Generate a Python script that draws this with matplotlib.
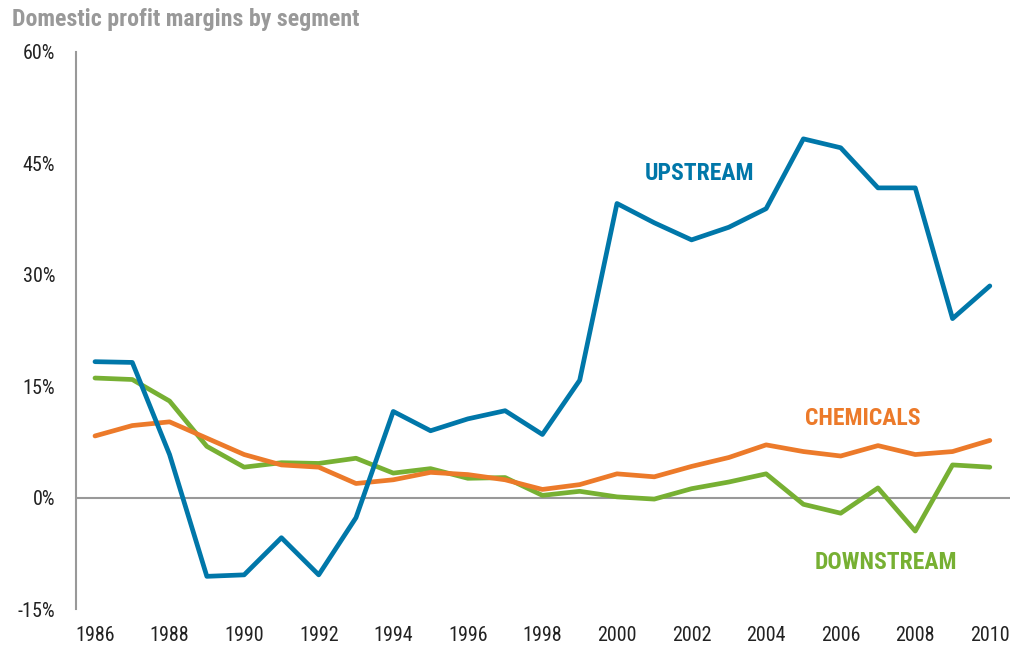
import matplotlib
matplotlib.use("Agg")
import matplotlib.pyplot as plt
from matplotlib.ticker import FuncFormatter

years = list(range(1986, 2011))
upstream = [18.3, 18.2, 5.8, -10.6, -10.4, -5.4, -10.4, -2.7, 11.6, 9.0, 10.6, 11.7, 8.5, 15.8,
            39.6, 37.0, 34.7, 36.4, 38.9, 48.3, 47.1, 41.7, 41.7, 24.1, 28.5]
chemicals = [8.3, 9.7, 10.2, 8.0, 5.8, 4.4, 4.1, 1.9, 2.4, 3.4, 3.1, 2.4, 1.1, 1.75,
             3.2, 2.8, 4.2, 5.4, 7.1, 6.2, 5.6, 7.0, 5.8, 6.2, 7.7]
downstream = [16.1, 15.9, 13.0, 6.9, 4.1, 4.7, 4.6, 5.3, 3.3, 3.9, 2.6, 2.7, 0.3, 0.85,
              0.1, -0.2, 1.2, 2.1, 3.2, -0.9, -2.1, 1.3, -4.5, 4.4, 4.1]
yticks = [-15, 0, 15, 30, 45, 60]
xticks = list(range(1986, 2011, 2))

BLUE = "#0077a9"
ORANGE = "#ec7a2a"
GREEN = "#77b033"
FAM = ["Liberation Sans Narrow", "Roboto Condensed", "DejaVu Sans"]

fig = plt.figure(figsize=(10.13, 6.47), dpi=100)
ax = fig.add_axes([0.075, 0.0587, 0.922, 0.861])

ax.axhline(0, color="#999999", lw=1.5, zorder=1)
ax.plot(years, chemicals, color=ORANGE, lw=3.4, solid_capstyle="round", zorder=3)
ax.plot(years, downstream, color=GREEN, lw=3.4, solid_capstyle="round", zorder=2)
ax.plot(years, upstream, color=BLUE, lw=3.4, solid_capstyle="round", zorder=4)

ax.set_xlim(1985.49, 2010.54)
ax.set_ylim(-15, 60)
ax.set_yticks(yticks)
ax.set_xticks(xticks)
ax.yaxis.set_major_formatter(FuncFormatter(lambda v, p: f"{int(v)}%"))
for s in ["top", "right", "bottom"]:
    ax.spines[s].set_visible(False)
ax.spines["left"].set_color("#999999")
ax.spines["left"].set_linewidth(1.5)
ax.tick_params(axis="both", length=0, labelsize=14.5, colors="#222222")
ax.tick_params(axis="y", pad=15)
ax.tick_params(axis="x", pad=12)
for lab in ax.get_xticklabels() + ax.get_yticklabels():
    lab.set_family(FAM)

ax.text(2002.2, 43.6, "UPSTREAM", color=BLUE, fontsize=17, fontweight="bold", family=FAM,
        ha="center", va="center")
ax.text(2006.6, 10.6, "CHEMICALS", color=ORANGE, fontsize=17, fontweight="bold", family=FAM,
        ha="center", va="center")
ax.text(2007.2, -8.8, "DOWNSTREAM", color=GREEN, fontsize=17, fontweight="bold", family=FAM,
        ha="center", va="center")

fig.text(0.012, 0.970, "Domestic profit margins by segment", color="#999999", fontsize=17.2,
         fontweight="bold", family=FAM, ha="left", va="center")

fig.savefig("out.png", dpi=100)
